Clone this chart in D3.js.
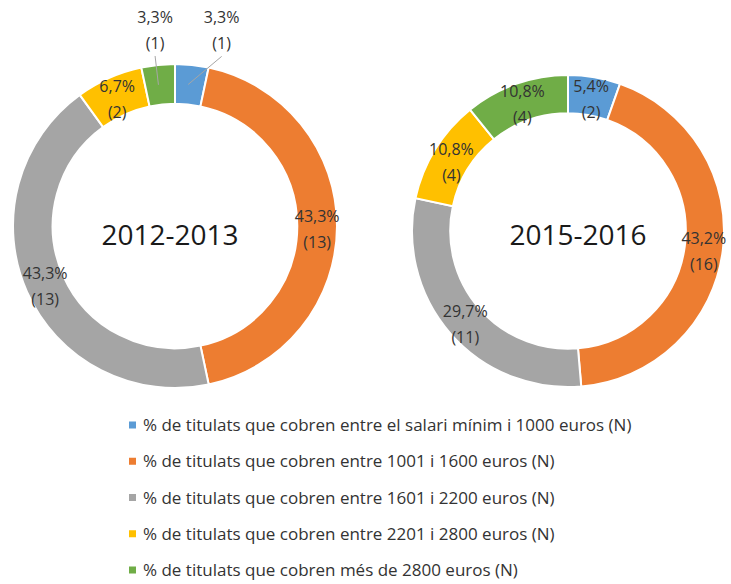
<!DOCTYPE html>
<html>
<head>
<meta charset="utf-8">
<script src="https://cdn.jsdelivr.net/npm/d3@7"></script>
<style>
  body { margin: 0; background: #fff; }
  svg { display: block; }
  .lbl { font-family: "Open Sans", sans-serif; font-size: 16px; fill: #333; }
  .ttl { font-family: "Open Sans", sans-serif; font-size: 28px; fill: #1a1a1a; }
  .leg { font-family: "Open Sans", sans-serif; font-size: 17px; fill: #333; }
</style>
</head>
<body>
<div id="chart"></div>
<script>
// legend categories
var categories = [
  "% de titulats que cobren entre el salari mínim i 1000 euros (N)",
  "% de titulats que cobren entre 1001 i 1600 euros (N)",
  "% de titulats que cobren entre 1601 i 2200 euros (N)",
  "% de titulats que cobren entre 2201 i 2800 euros (N)",
  "% de titulats que cobren més de 2800 euros (N)"
];
var periods = ["2012-2013", "2015-2016"];
var counts2012 = [1, 13, 13, 2, 1];
var counts2015 = [2, 16, 11, 4, 4];
var colors = ["#5B9BD5", "#ED7D31", "#A5A5A5", "#FFC000", "#70AD47"];

var width = 731, height = 584;

var svg = d3.select("#chart").append("svg")
  .attr("width", width)
  .attr("height", height);

// chart placement, small slices get their labels pulled out with a leader line
var donuts = [
  {title: periods[0], counts: counts2012, cx: 175, cy: 226, r: 162, titleX: 170,
   pulled: {0: {r: 204, da: 0.126}, 4: {r: 200, da: 0.005}}},
  {title: periods[1], counts: counts2015, cx: 568, cy: 231, r: 156, titleX: 578,
   pulled: {}}
];

var fmt = d3.format(".1f");
function pctText(v, total) { return fmt(v / total * 100).replace(".", ",") + "%"; }

donuts.forEach(function(dn) {
  var total = d3.sum(dn.counts);
  var pie = d3.pie().sort(null).value(function(d) { return d; });
  var arcs = pie(dn.counts);
  var inner = dn.r * 0.755;
  var arc = d3.arc().innerRadius(inner).outerRadius(dn.r);
  var mid = (inner + dn.r) / 2;
  var labelArc = d3.arc().innerRadius(mid).outerRadius(mid);

  var g = svg.append("g")
    .attr("transform", "translate(" + dn.cx + "," + dn.cy + ")");

  g.selectAll("path.slice")
    .data(arcs)
    .enter().append("path")
      .attr("class", "slice")
      .attr("d", arc)
      .attr("fill", function(d, i) { return colors[i]; })
      .attr("stroke", "#fff")
      .attr("stroke-width", 2);

  arcs.forEach(function(d, i) {
    var pos = labelArc.centroid(d);
    var p = dn.pulled[i];
    if (p) {
      var a = (d.startAngle + d.endAngle) / 2 + p.da;
      var lx = Math.sin(a) * p.r, ly = -Math.cos(a) * p.r;
      var a0 = (d.startAngle + d.endAngle) / 2 - 0.012;
      g.append("line")
        .attr("x1", Math.sin(a0) * mid).attr("y1", -Math.cos(a0) * mid)
        .attr("x2", lx).attr("y2", ly + 29)
        .attr("stroke", "#a6a6a6")
        .attr("stroke-width", 1);
      pos = [lx, ly];
    }
    var t = g.append("text")
      .attr("class", "lbl")
      .attr("text-anchor", "middle")
      .attr("x", pos[0])
      .attr("y", pos[1]);
    t.append("tspan").attr("x", pos[0]).attr("dy", "-0.28em").text(pctText(d.value, total));
    t.append("tspan").attr("x", pos[0]).attr("dy", 26).text("(" + d.value + ")");
  });

  svg.append("text")
    .attr("class", "ttl")
    .attr("text-anchor", "middle")
    .attr("x", dn.titleX)
    .attr("y", 245)
    .text(dn.title);
});

// legend
var legY = d3.scalePoint().domain(d3.range(categories.length)).range([425, 570]);

var leg = svg.append("g").selectAll("g")
  .data(categories)
  .enter().append("g")
    .attr("transform", function(d, i) { return "translate(129," + legY(i) + ")"; });

leg.append("rect")
  .attr("x", 0).attr("y", -3.5)
  .attr("width", 7).attr("height", 7)
  .attr("fill", function(d, i) { return colors[i]; });

leg.append("text")
  .attr("class", "leg")
  .attr("x", 14)
  .attr("y", 6)
  .text(function(d) { return d; });
</script>
</body>
</html>
